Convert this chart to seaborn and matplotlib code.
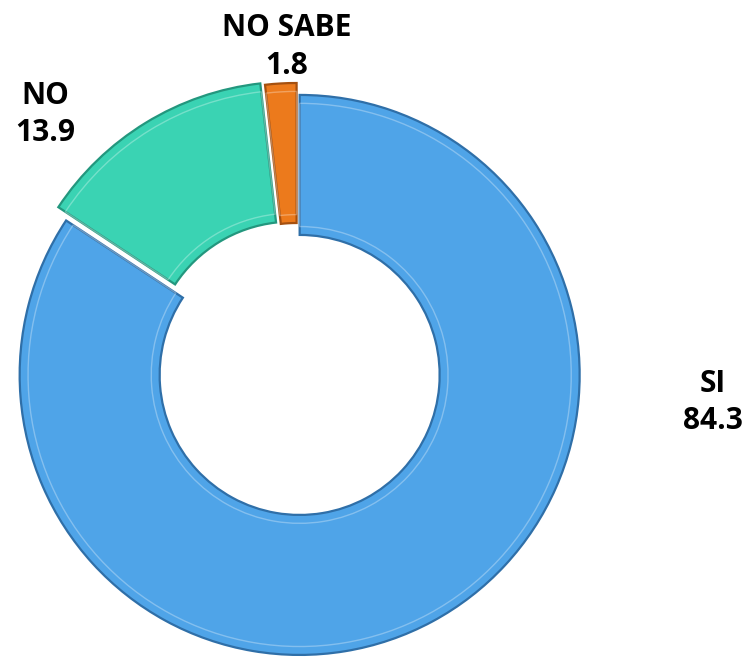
import matplotlib
matplotlib.use("Agg")
import matplotlib.pyplot as plt
import seaborn as sns
import numpy as np

categories = ["SI", "NO", "NO SABE"]
values = [84.3, 13.9, 1.8]
colors = ["#4FA4E8", "#3AD3B3", "#EC7A1C"]
edge_colors = ["#2F6FA8", "#23977E", "#A5500F"]
explode = [0.02, 0.035, 0.025]

sns.set_theme(style="white")
plt.rcParams['font.family'] = ['Open Sans', 'DejaVu Sans']

fig = plt.figure(figsize=(7.48, 6.57), dpi=100)
ax = fig.add_axes([0, 0, 1, 1])

R = 1.0
wedges, _ = ax.pie(values, colors=colors, startangle=90, counterclock=False,
                   explode=explode, radius=R,
                   wedgeprops=dict(width=0.5, linewidth=1.6),
                   center=(0, 0))
for w, ec in zip(wedges, edge_colors):
    w.set_edgecolor(ec)

# subtle bevel highlight
wedges2, _ = ax.pie(values, colors=["none"] * 3, startangle=90, counterclock=False,
                    explode=explode, radius=R - 0.03,
                    wedgeprops=dict(width=0.44, linewidth=1.0, fill=False),
                    center=(0, 0))
for w in wedges2:
    w.set_edgecolor((1, 1, 1, 0.3))

label_pos = [(1.486, -0.115), (-0.90, 0.913), (-0.036, 1.153)]
for cat, val, (x, y) in zip(categories, values, label_pos):
    ax.text(x, y, f"{cat}\n{val:.1f}", ha="center", va="center",
            fontsize=21.5, fontweight="bold", color="#000000", linespacing=1.32)

px = 280.0
cx, cy = 297.0, 370.0
ax.set_xlim(-cx / px, (748 - cx) / px)
ax.set_ylim(-(657 - cy) / px, cy / px)
ax.set_aspect("equal")
ax.axis("off")

fig.savefig("out.png", dpi=100)
